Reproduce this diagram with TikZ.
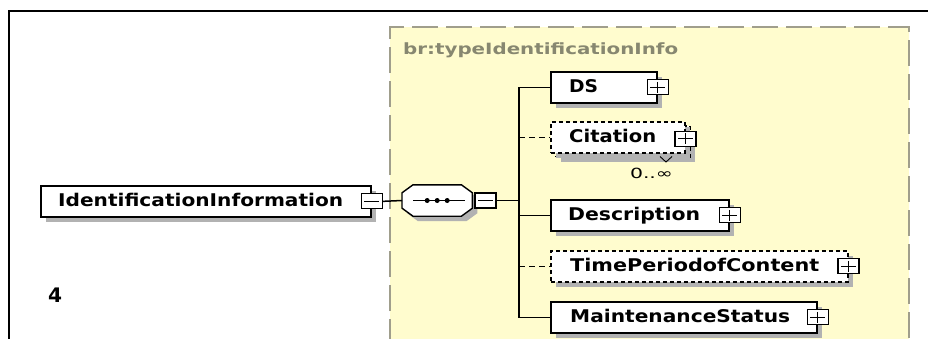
\documentclass[tikz,border=0pt]{standalone}
\usepackage{fontspec}
\setmainfont{DejaVu Sans}
\usepackage{graphicx}
\usetikzlibrary{shadows}
\definecolor{bgyellow}{RGB}{255,252,206}
\definecolor{bgborder}{RGB}{160,158,140}
\definecolor{titlegray}{RGB}{135,135,112}
\definecolor{shadowgray}{RGB}{178,178,178}
\newcommand{\fitw}[2]{\resizebox{#1pt}{\height}{#2}}
\begin{document}
\begin{tikzpicture}[x=1pt,y=-1pt,
  shad/.style={drop shadow={shadow xshift=5pt, shadow yshift=-5pt, fill=shadowgray, opacity=1}},
  elem/.style={draw, line width=1.7pt, fill=white, shad, minimum height=31pt, inner sep=0pt, anchor=north west},
  optelem/.style={elem, line width=1.5pt, dash pattern=on 4pt off 3pt},
  etext/.style={anchor=west, inner sep=0pt, text height=12.8pt, text depth=0pt, font=\fontsize{17.5}{18}\selectfont\bfseries},
  pmbox/.style={draw, line width=1.2pt, fill=white, minimum width=21pt, minimum height=15pt, inner sep=0pt},
  plusbox/.style={pmbox, path picture={
      \draw[line width=1.2pt] ([xshift=3pt]path picture bounding box.west) -- ([xshift=-3pt]path picture bounding box.east)
        ([yshift=-2pt]path picture bounding box.north) -- ([yshift=2pt]path picture bounding box.south);}},
  minusbox/.style={pmbox, path picture={
      \draw[line width=1.2pt] ([xshift=3pt]path picture bounding box.west) -- ([xshift=-3pt]path picture bounding box.east);}},
  conn/.style={line width=1.5pt},
  optconn/.style={conn, dash pattern=on 6pt off 4pt}
]
\useasboundingbox (0,0) rectangle (928,338);
\clip (0,0) rectangle (928,338);
\fill[white] (0,0) rectangle (928,338);
% outer frame
\draw[line width=2pt] (9,345) -- (9,11) -- (935,11);
% complex type region
\fill[bgyellow] (390,27) rectangle (909,345);
\draw[bgborder, line width=1.5pt, dash pattern=on 26pt off 8pt] (390,345) -- (390,27) -- (909,27) -- (909,345);
\node[anchor=west, inner sep=0pt, text height=11pt, text depth=0pt, font=\fontsize{15.5}{16}\selectfont\bfseries, text=titlegray] (title) at (403,49) {\fitw{275}{br:typeIdentificationInfo}};

% label 4
\node[anchor=west, inner sep=0pt, text height=14.6pt, text depth=0pt, font=\fontsize{20}{20}\selectfont\bfseries] (num) at (48,295.5) {\fitw{14}{4}};

% root element
\node[elem, minimum width=330pt] (id) at (40,185) {};
\node[etext] (idt) at (58,200.5) {\fitw{285}{IdentificationInformation}};
\node[minusbox] (idm) at (id.east) {};

% sequence compositor
\node[minimum width=70pt, minimum height=31pt, inner sep=0pt, anchor=west] (seq) at (402,200.5) {};
\draw[line width=1.4pt, fill=white, shad]
  ([xshift=11pt]seq.north west) -- ([xshift=-11pt]seq.north east) -- ([yshift=-8pt]seq.north east)
  -- ([yshift=8pt]seq.south east) -- ([xshift=-11pt]seq.south east) -- ([xshift=11pt]seq.south west)
  -- ([yshift=8pt]seq.south west) -- ([yshift=-8pt]seq.north west) -- cycle;
\draw[line width=1.3pt] ([xshift=-24pt]seq.center) -- ([xshift=28pt]seq.center);
\fill ([xshift=-10pt]seq.center) circle (2.5pt);
\fill (seq.center) circle (2.5pt);
\fill ([xshift=10pt]seq.center) circle (2.5pt);
\node[minusbox, anchor=west] (seqm) at ([xshift=2pt]seq.east) {};
\draw[conn] (idm.east) -- (seq.west);

% child elements
\node[elem, minimum width=106pt] (ds) at (550,71) {};
\node[etext] (dst) at (569,86.5) {\fitw{29}{DS}};
\node[plusbox] (dsp) at (ds.east) {};

\node[optelem, minimum width=134pt] (citb) at (555,125) {};
\node[optelem, minimum width=134pt, drop shadow={opacity=0}] (cit) at (550,121) {};
\node[etext] (citt) at (569,136.5) {\fitw{87}{Citation}};
\node[plusbox] (citp) at ([yshift=-1.5pt]cit.east) {};
\draw[line width=0.9pt] (660,156.5) -- (666,162) -- (672,156.5);
\node[inner sep=0pt, text height=10.2pt, text depth=0pt, font=\fontsize{14}{14}\selectfont] (card) at (651.5,173) {\fitw{43}{0..∞}};

\node[elem, minimum width=178pt] (desc) at (550,199) {};
\node[etext] (desct) at (568,214.5) {\fitw{132}{Description}};
\node[plusbox] (descp) at (desc.east) {};

\node[optelem, minimum width=297pt] (tpc) at (550,250) {};
\node[etext] (tpct) at (570,265.5) {\fitw{249}{TimePeriodofContent}};
\node[plusbox] (tpcp) at (tpc.east) {};

\node[elem, minimum width=266pt] (ms) at (550,301) {};
\node[etext] (mst) at (570,316.5) {\fitw{220}{MaintenanceStatus}};
\node[plusbox] (msp) at (ms.east) {};

% connectors
\coordinate (bus) at (519,200.5);
\draw[conn] (seqm.east) -- (bus);
\draw[conn] (ds.west) -- (ds.west -| bus) -- (ms.west -| bus) -- (ms.west);
\draw[optconn] (cit.west -| bus) -- (cit.west);
\draw[conn] (desc.west -| bus) -- (desc.west);
\draw[optconn] (tpc.west -| bus) -- (tpc.west);
\end{tikzpicture}
\end{document}
